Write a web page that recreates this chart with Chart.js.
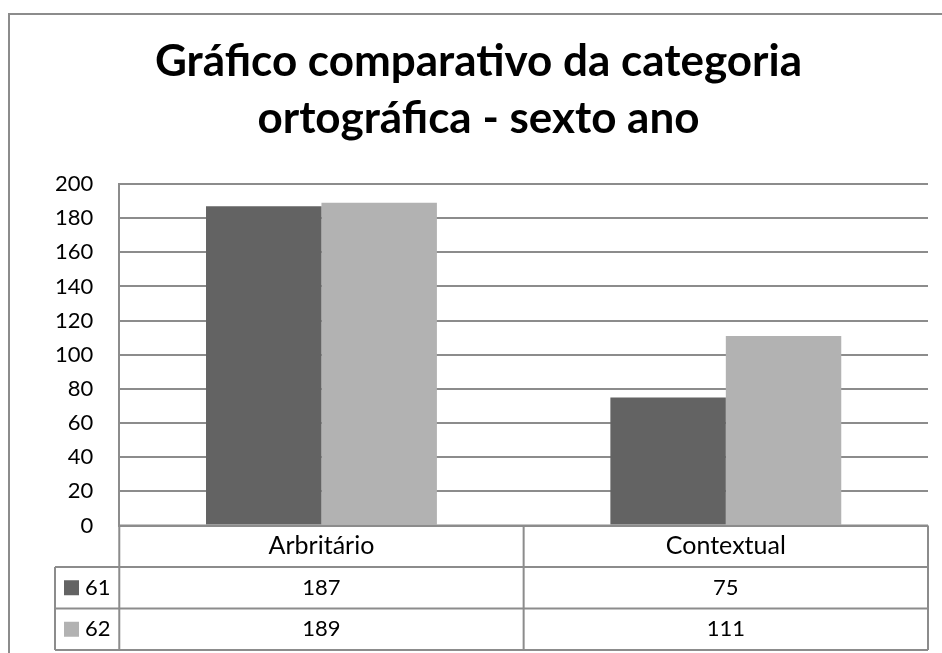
<!DOCTYPE html>
<html>
<head>
<meta charset="utf-8">
<script src="https://cdn.jsdelivr.net/npm/chart.js@4"></script>
<style>
  body { margin: 0; background: #fff; }
  #wrap { width: 942px; height: 653px; }
</style>
</head>
<body>
<div id="wrap"><canvas id="chart" width="942" height="653"></canvas></div>
<script>
var categories = ['Arbritário', 'Contextual'];
var seriesNames = ['61', '62'];
var series61 = [187, 75];
var series62 = [189, 111];
var yTicks = [0, 20, 40, 60, 80, 100, 120, 140, 160, 180, 200];

var lineColor = '#8c8c8c';
var darkGray = '#636363';
var lightGray = '#b2b2b2';

// border of the chart box plus the data table under the plot
var tablePlugin = {
    id: 'dataTable',
    afterDraw: function (chart) {
        var ctx = chart.ctx;
        var area = chart.chartArea;
        var x = chart.scales.x;
        var rowH = 41.5;
        var top = area.bottom;
        var legendLeft = 55;
        var values = [series61, series62];
        var colors = [darkGray, lightGray];

        ctx.save();
        ctx.strokeStyle = lineColor;
        ctx.lineWidth = 2;
        // outer frame (only left and top are inside the picture)
        ctx.strokeRect(9, 14, 960, 700);

        ctx.beginPath();
        ctx.moveTo(area.left, top);
        ctx.lineTo(area.right, top);
        for (var r = 1; r <= 3; r++) {
            ctx.moveTo(legendLeft, top + rowH * r);
            ctx.lineTo(area.right, top + rowH * r);
        }
        ctx.moveTo(area.left, top);
        ctx.lineTo(area.left, top + rowH * 3);
        ctx.moveTo(area.right, top);
        ctx.lineTo(area.right, top + rowH * 3);
        ctx.moveTo(legendLeft, top + rowH);
        ctx.lineTo(legendLeft, top + rowH * 3);
        for (var i = 1; i < categories.length; i++) {
            var mid = (x.getPixelForValue(i - 1) + x.getPixelForValue(i)) / 2;
            ctx.moveTo(mid, top);
            ctx.lineTo(mid, top + rowH * 3);
        }
        ctx.stroke();

        ctx.fillStyle = '#000';
        ctx.textAlign = 'center';
        ctx.textBaseline = 'middle';
        for (var c = 0; c < categories.length; c++) {
            var cx = x.getPixelForValue(c);
            ctx.font = '25px Lato';
            ctx.fillText(categories[c], cx, top + rowH / 2);
            ctx.font = '22px Lato';
            for (var s = 0; s < values.length; s++) {
                ctx.fillText(String(values[s][c]), cx, top + rowH * (s + 1.5));
            }
        }

        ctx.textAlign = 'left';
        for (var k = 0; k < seriesNames.length; k++) {
            var cy = top + rowH * (k + 1.5);
            ctx.fillStyle = colors[k];
            ctx.fillRect(64, cy - 7.5, 15, 15);
            ctx.fillStyle = '#000';
            ctx.fillText(seriesNames[k], 85, cy);
        }
        ctx.restore();
    }
};

function drawChart() {
    new Chart(document.getElementById('chart'), {
        type: 'bar',
        data: {
            labels: categories,
            datasets: [{
                label: seriesNames[0],
                data: series61,
                backgroundColor: darkGray
            }, {
                label: seriesNames[1],
                data: series62,
                backgroundColor: lightGray
            }]
        },
        options: {
            responsive: false,
            animation: false,
            layout: { padding: { left: 29, right: 14, top: 0, bottom: 127.5 } },
            datasets: {
                bar: { categoryPercentage: 0.571, barPercentage: 1 }
            },
            plugins: {
                legend: { display: false },
                tooltip: { enabled: false },
                title: {
                    display: true,
                    text: ['Gráfico comparativo da categoria', 'ortográfica - sexto ano'],
                    color: '#000',
                    font: { family: 'Lato', size: 44, weight: 'bold', lineHeight: 57 / 44 },
                    padding: { top: 33, bottom: 37 }
                }
            },
            scales: {
                x: { display: false },
                y: {
                    min: yTicks[0],
                    max: yTicks[yTicks.length - 1],
                    afterBuildTicks: function (scale) {
                        scale.ticks = yTicks.map(function (v) { return { value: v }; });
                    },
                    ticks: {
                        color: '#000',
                        padding: 26,
                        font: { family: 'Lato', size: 22 }
                    },
                    grid: { color: lineColor, lineWidth: 2, drawTicks: false },
                    border: { color: lineColor, width: 2 }
                }
            }
        },
        plugins: [tablePlugin]
    });
}

Promise.all([
    document.fonts.load('22px Lato'),
    document.fonts.load('bold 44px Lato')
]).then(drawChart, drawChart);
</script>
</body>
</html>
